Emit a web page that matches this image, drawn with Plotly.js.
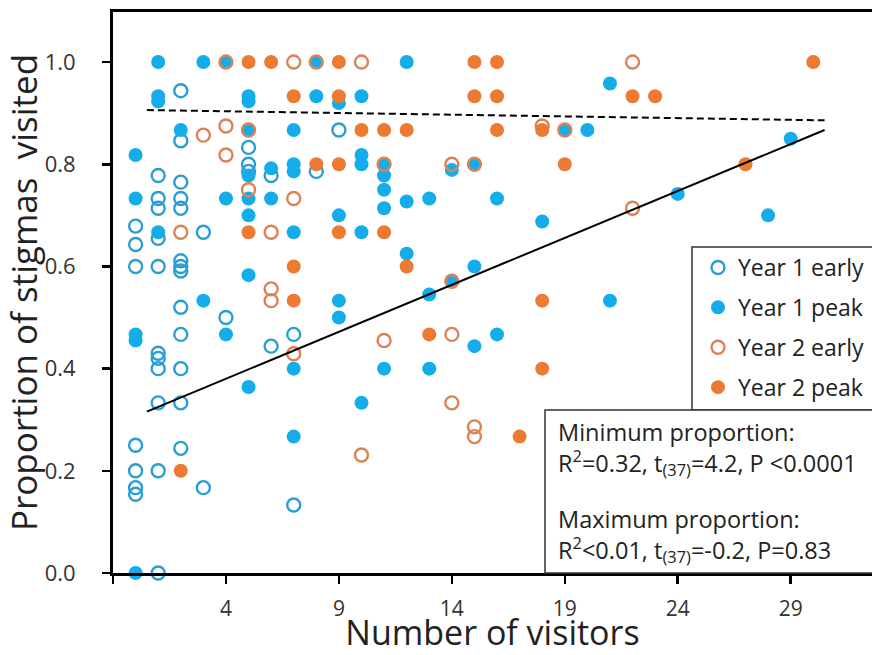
<!DOCTYPE html>
<html><head><meta charset="utf-8">
<script src="https://cdn.plot.ly/plotly-3.0.1.min.js"></script>
<style>html,body{margin:0;padding:0;background:#fff;} #chart{width:872px;height:655px;}</style>
</head><body><div id="chart"></div>
<script>
// ---- Data ----
const seriesNames = ["Year 1 early", "Year 1 peak", "Year 2 early", "Year 2 peak"];

const y1EarlyX = [0,0,0,0,0,0,0, 1,1,1,1,1,1,1,1,1,1,1, 2,2,2,2,2,2,2,2,2,2,2,2,2, 3,3, 4, 5,5,5, 6,6, 7,7, 8, 9];
const y1EarlyY = [0.679,0.643,0.6,0.25,0.2,0.167,0.154,
  0.778,0.733,0.714,0.655,0.6,0.43,0.42,0.4,0.333,0.2,0.0,
  0.944,0.846,0.765,0.733,0.714,0.611,0.6,0.591,0.52,0.467,0.4,0.333,0.244,
  0.667,0.167, 0.5, 0.833,0.8,0.786, 0.778,0.444, 0.467,0.133, 0.786, 0.867];

const y1PeakX = [0,0,0,0,0, 1,1,1,1, 2, 3,3, 4,4,4, 5,5,5,5,5,5,5,5, 6,6, 7,7,7,7,7,7, 8,8, 9,9,9,9,
  10,10,10,10,10, 11,11,11,11,11, 12,12,12, 13,13,13, 14,14, 15,15,15, 16,16, 18, 19, 20, 21,21, 24, 28, 29];
const y1PeakY = [0.818,0.733,0.467,0.455,0.0, 1.0,0.933,0.923,0.667, 0.867, 1.0,0.533, 1.0,0.733,0.467,
  0.933,0.923,0.867,0.778,0.733,0.7,0.583,0.364, 0.792,0.733, 0.867,0.8,0.786,0.667,0.4,0.267, 1.0,0.933,
  0.92,0.7,0.533,0.5, 0.933,0.818,0.8,0.667,0.333, 0.8,0.778,0.75,0.714,0.4, 1.0,0.727,0.625,
  0.733,0.545,0.4, 0.789,0.571, 0.8,0.6,0.444, 0.733,0.467, 0.688, 0.867, 0.867, 0.958,0.533, 0.742, 0.7, 0.85];

const y2EarlyX = [2, 3, 4,4,4, 5,5, 6,6,6, 7,7,7, 8, 10,10, 11,11, 14,14,14,14, 15,15,15, 18, 19, 22,22];
const y2EarlyY = [0.667, 0.857, 1.0,0.875,0.818, 0.867,0.75, 0.667,0.556,0.533, 1.0,0.733,0.429, 1.0,
  1.0,0.231, 0.8,0.455, 0.8,0.571,0.467,0.333, 0.8,0.286,0.267, 0.875, 0.867, 1.0,0.714];

const y2PeakX = [2, 5,5, 6, 7,7,7, 8, 9,9,9,9, 10, 11,11, 12,12, 13, 15,15, 16,16,16, 17, 18,18,18, 19, 22, 23, 27, 30];
const y2PeakY = [0.2, 1.0,0.667, 1.0, 0.933,0.6,0.533, 0.8, 1.0,0.933,0.8,0.667, 0.867, 0.867,0.667,
  0.867,0.6, 0.467, 1.0,0.933, 1.0,0.933,0.867, 0.267, 0.867,0.533,0.4, 0.8, 0.933, 0.933, 0.8, 1.0];

// fitted regression lines (minimum and maximum proportion)
const fitX = [0.5, 30.5];
const fitMinY = [0.316, 0.867];
const fitMaxY = [0.906, 0.886];

const xTickVals = [-1, 4, 9, 14, 19, 24, 29];
const xTickText = ["", "4", "9", "14", "19", "24", "29"];
const yTickVals = [0, 0.2, 0.4, 0.6, 0.8, 1.0];

const statsBlocks = [
  "Minimum proportion:<br>R<sup>2</sup>=0.32, t<sub>(37)</sub>=4.2, P <0.0001",
  "Maximum proportion:<br>R<sup>2</sup><0.01, t<sub>(37)</sub>=-0.2, P=0.83"
];

// ---- Styling ----
const FONT = "Open Sans, Noto Sans, sans-serif";
const BLUE = "#14ADE9", BLUE_OPEN = "#2A9ED3", ORANGE = "#EC7A33", ORANGE_OPEN = "#DD8255";
const MS = 14;

const traces = [
  {x: y1EarlyX, y: y1EarlyY, name: seriesNames[0], legendgroup: "a", type: "scatter", mode: "markers", cliponaxis: false,
   marker: {symbol: "circle-open", size: MS - 1, color: BLUE_OPEN, line: {width: 2.4, color: BLUE_OPEN}}},
  {x: y1PeakX, y: y1PeakY, name: seriesNames[1], legendgroup: "b", type: "scatter", mode: "markers", cliponaxis: false,
   marker: {symbol: "circle", size: MS, color: BLUE, line: {width: 0}}},
  {x: y2EarlyX, y: y2EarlyY, name: seriesNames[2], legendgroup: "c", type: "scatter", mode: "markers", cliponaxis: false,
   marker: {symbol: "circle-open", size: MS - 1, color: ORANGE_OPEN, line: {width: 2.4, color: ORANGE_OPEN}}},
  {x: y2PeakX, y: y2PeakY, name: seriesNames[3], legendgroup: "d", type: "scatter", mode: "markers", cliponaxis: false,
   marker: {symbol: "circle", size: MS, color: ORANGE, line: {width: 0}}},
  {x: fitX, y: fitMinY, type: "scatter", mode: "lines", showlegend: false, hoverinfo: "skip",
   line: {color: "#000", width: 2}},
  {x: fitX, y: fitMaxY, type: "scatter", mode: "lines", showlegend: false, hoverinfo: "skip",
   line: {color: "#000", width: 2, dash: "7px,4px"}}
];

const L = 113, T = 12, W = 759, H = 561;
const px = v => (v - L) / W;
const py = v => (T + H - v) / H;

const annotations = [
  {text: statsBlocks[0], x: px(556), y: py(448)},
  {text: statsBlocks[1], x: px(556), y: py(535)}
].map(a => Object.assign(a, {xref: "paper", yref: "paper", xanchor: "left", yanchor: "middle", align: "left",
  showarrow: false, font: {family: FONT, size: 23.5, color: "#222"}}));

const shapes = [
  {type: "rect", xref: "paper", yref: "paper", x0: px(692), x1: 1.2, y0: py(410), y1: py(247),
   fillcolor: "#fff", line: {color: "#333", width: 1.5}, layer: "above"},
  {type: "rect", xref: "paper", yref: "paper", x0: px(545), x1: 1.2, y0: py(573), y1: py(410),
   fillcolor: "#fff", line: {color: "#333", width: 1.5}, layer: "above"}
];

const layout = {
  width: 872, height: 655,
  margin: {l: L, r: 0, t: T, b: 655 - T - H, pad: 0},
  paper_bgcolor: "#fff", plot_bgcolor: "#fff",
  font: {family: FONT, color: "#333"},
  showlegend: true,
  legend: {x: px(698), y: py(246), xanchor: "left", yanchor: "top", bgcolor: "rgba(0,0,0,0)",
    borderwidth: 0, font: {family: FONT, size: 23, color: "#222"}, tracegroupgap: 7, itemwidth: 30},
  xaxis: {range: [-1, 32.6], tickmode: "array", tickvals: xTickVals, ticktext: xTickText,
    showline: true, linecolor: "#000", linewidth: 3, mirror: true, ticks: "outside", ticklen: 8,
    tickwidth: 2.5, tickcolor: "#000", showgrid: false, zeroline: false,
    tickfont: {family: FONT, size: 21, color: "#333"}, ticklabelstandoff: 7,
    title: {text: "Number of visitors", font: {family: FONT, size: 34, color: "#222"}, standoff: 0}},
  yaxis: {range: [0, 1.098], tickmode: "array", tickvals: yTickVals, tickformat: ".1f",
    showline: true, linecolor: "#000", linewidth: 3, ticks: "outside", ticklen: 8,
    tickwidth: 2.5, tickcolor: "#000", showgrid: false, zeroline: false,
    tickfont: {family: FONT, size: 22, color: "#333"}, ticklabelstandoff: 22,
    title: {text: "Proportion of stigmas  visited", font: {family: FONT, size: 35, color: "#222"}, standoff: 4}},
  shapes: shapes,
  annotations: annotations
};

Plotly.newPlot("chart", traces, layout, {displayModeBar: false, staticPlot: true});
</script>
</body></html>
